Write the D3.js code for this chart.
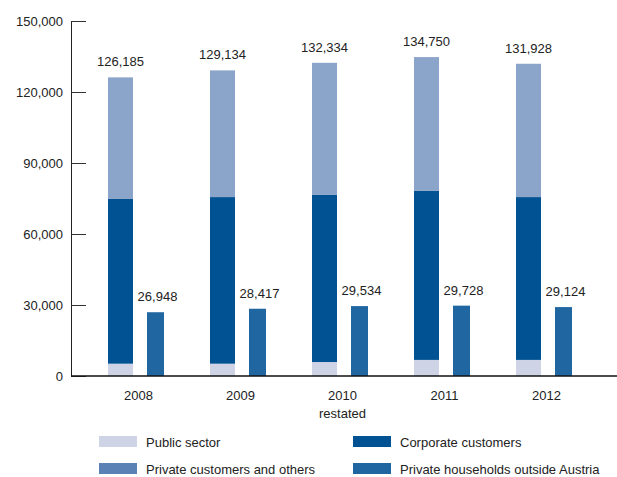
<!DOCTYPE html>
<html>
<head>
<meta charset="utf-8">
<script src="https://cdn.jsdelivr.net/npm/d3@7"></script>
<style>
  html, body { margin: 0; padding: 0; background: #fff; }
  svg { display: block; font-family: "Liberation Sans", Arial, sans-serif; }
</style>
</head>
<body>
<svg id="chart" width="617" height="477"></svg>
<script>
// ---- data ----
const years = ["2008", "2009", "2010", "2011", "2012"];
const yearNotes = ["", "", "restated", "", ""];
const publicSector = [5200, 5200, 5900, 6800, 6800];
const corporateCustomers = [69600, 70400, 70600, 71400, 68800];
const privateCustomersOthers = [51385, 53534, 55834, 56550, 56328];
const totals = [126185, 129134, 132334, 134750, 131928];
const householdsOutsideAustria = [26948, 28417, 29534, 29728, 29124];
const yTicks = [0, 30000, 60000, 90000, 120000, 150000];
const seriesNames = ["Public sector", "Corporate customers", "Private customers and others", "Private households outside Austria"];

// ---- styles ----
const colPublic = "#CED4E6", colCorp = "#005293", colPriv = "#8BA5CA", colPrivLegend = "#5A82B5", colHH = "#2067A2";

const svg = d3.select("#chart");
const y = d3.scaleLinear().domain([0, 150000]).range([376, 21]);
const x = d3.scaleBand().domain(years).range([85, 595]).padding(0);
const fmt = d3.format(",");

// axis
const yAxis = d3.axisLeft(y).tickValues(yTicks).tickFormat(fmt).tickSizeInner(-15).tickSizeOuter(0).tickPadding(8);
const ga = svg.append("g").attr("transform", "translate(71,0)").call(yAxis);
ga.select(".domain").attr("stroke", "#222").attr("stroke-width", 1);
ga.selectAll(".tick line").attr("stroke", "#333").attr("stroke-width", 1);
ga.selectAll(".tick text").attr("font-size", 13).attr("fill", "#222").attr("font-family", "Liberation Sans, Arial, sans-serif");

// stacked data
const table = years.map((yr, i) => ({ year: yr, pub: publicSector[i], corp: corporateCustomers[i], priv: privateCustomersOthers[i] }));
const stack = d3.stack().keys(["pub", "corp", "priv"])(table);
const colors = { pub: colPublic, corp: colCorp, priv: colPriv };
const cx = yr => x(yr) + x.bandwidth() / 2;

svg.append("g").selectAll("g").data(stack).join("g")
  .attr("fill", d => colors[d.key])
  .selectAll("rect").data(d => d).join("rect")
  .attr("x", d => cx(d.data.year) - 28)
  .attr("width", 25)
  .attr("y", d => y(d[1]))
  .attr("height", d => y(d[0]) - y(d[1]));

// total labels
svg.append("g").selectAll("text").data(years).join("text")
  .attr("x", d => cx(d) - 15.5)
  .attr("y", (d, i) => y(totals[i]) - 11)
  .attr("text-anchor", "middle").attr("font-size", 13).attr("fill", "#222")
  .text((d, i) => fmt(totals[i]));

// side bars
svg.append("g").selectAll("rect").data(years).join("rect")
  .attr("fill", colHH)
  .attr("x", d => cx(d) + 11)
  .attr("width", 17)
  .attr("y", (d, i) => y(householdsOutsideAustria[i]))
  .attr("height", (d, i) => y(0) - y(householdsOutsideAustria[i]));

svg.append("g").selectAll("text").data(years).join("text")
  .attr("x", d => cx(d) + 21.5)
  .attr("y", (d, i) => y(householdsOutsideAustria[i]) - 11)
  .attr("text-anchor", "middle").attr("font-size", 13).attr("fill", "#222")
  .text((d, i) => fmt(householdsOutsideAustria[i]));

// x axis line
svg.append("line").attr("x1", 71).attr("x2", 617).attr("y1", y(0)).attr("y2", y(0))
  .attr("stroke", "#111").attr("stroke-width", 1.5);

// category labels
svg.append("g").selectAll("text").data(years).join("text")
  .attr("x", d => cx(d) + 2.5).attr("y", 400)
  .attr("text-anchor", "middle").attr("font-size", 13).attr("fill", "#222")
  .text(d => d);
svg.append("g").selectAll("text").data(years.filter((d, i) => yearNotes[i])).join("text")
  .attr("x", d => cx(d) + 2.5).attr("y", 418)
  .attr("text-anchor", "middle").attr("font-size", 13).attr("fill", "#222")
  .text(d => yearNotes[years.indexOf(d)]);

// legend
const legendItems = [
  { name: seriesNames[0], color: colPublic, lx: 99, ly: 436 },
  { name: seriesNames[1], color: colCorp, lx: 353, ly: 436 },
  { name: seriesNames[2], color: colPrivLegend, lx: 99, ly: 463 },
  { name: seriesNames[3], color: colHH, lx: 353, ly: 463 }
];
const lg = svg.append("g").selectAll("g").data(legendItems).join("g")
  .attr("transform", d => `translate(${d.lx},${d.ly})`);
lg.append("rect").attr("width", 38).attr("height", 11).attr("fill", d => d.color);
lg.append("text").attr("x", 47).attr("y", 11).attr("font-size", 13).attr("fill", "#222").text(d => d.name);
</script>
</body>
</html>
